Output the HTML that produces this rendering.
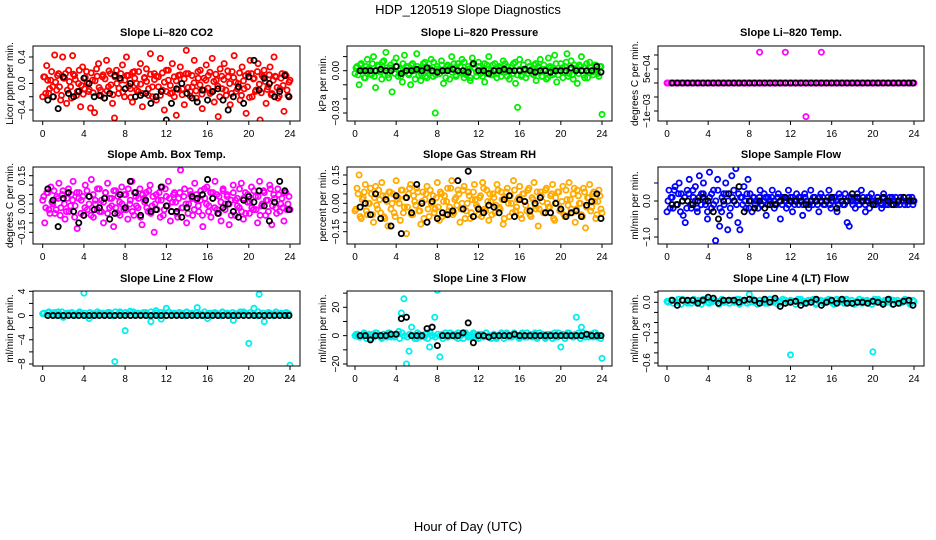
<!DOCTYPE html>
<html><head><meta charset="utf-8">
<style>
html,body{margin:0;padding:0;background:#fff;}
svg{display:block;font-family:"Liberation Sans",sans-serif;}
</style></head>
<body>
<svg id="chart" width="936" height="540" viewBox="0 0 936 540" xmlns="http://www.w3.org/2000/svg">
<text x="468" y="14" text-anchor="middle" font-size="13">HDP_120519  Slope Diagnostics</text>
<text x="468" y="531" text-anchor="middle" font-size="13">Hour of Day (UTC)</text>
</svg>
<script>
// ---- data ----
const xTicks = [0,4,8,12,16,20,24];
const co2Vals = [-20,10,27,-15,5,-5,43,-10,15,-25,40,8,-30,20,-5,42,12,-18,0,-35,25,-8,18,-12,-37,5,-44,22,30,-10,10,-22,35,-5,15,-30,-52,20,-15,5,28,-20,40,12,-8,-28,18,0,-12,30,-35,8,22,-18,45,-5,15,-25,10,38,-10,-40,20,5,-15,30,-20,-48,12,25,-8,-32,50,15,-12,-5,35,-22,8,20,-38,-10,28,12,-15,38,-28,5,-50,22,-8,30,-18,10,-32,18,42,-12,0,-25,25,-8,-45,15,35,-20,8,-10,30,-55,12,20,-30,-5,25,-15,40,10,-22,-8,15,-42,12,-18,5];
const co2Dense = [10,-15,5,-8,18,-20,2,12,-5,-18,8,15,-10,3,-22,14,6,-12,20,-3,-16,9,1,-9,16,-14,4,11,-6,-19,13,7,-11,19,-2,-17,10,0,-7,15,-13,5,12,-4,-21,17,8,-10,18,-1,-15,9,3,-8,14,-20,6,11,-5,-18,16,2,-12,20,-3,-14,10,4,-9,13,-17,7,15,-6,-19,12,1,-11,18,-2,-16,8,5,-7,17,-13,3,14,-4,-20,11,6,-10,19,0,-15,9,2,-8,16,-18,4,12,-5,-21,15,7,-12,18,-1,-14,10,3,-9,13,-17,5,11,-6,-19,8,-3,14,-10,2];
const co2Black = [-25,-20,-38,10,-15,-20,-12,8,0,-20,-18,-22,-15,12,8,-8,0,-20,-18,-15,-30,-20,-12,-55,-30,-8,0,-15,-22,-28,-10,-25,-12,-8,-25,-40,-20,-5,-30,10,35,-10,8,0,-20,-12,12,-20];
const presVals = [-2,3,-10,5,0,-5,8,2,-3,10,-12,4,0,-6,7,13,-3,2,-15,6,9,-4,1,-8,11,3,-2,-10,5,0,12,-3,-7,2,6,-5,1,8,-4,-30,3,-2,7,-9,0,4,-6,10,2,-3,5,-1,8,-5,0,3,-7,9,2,-4,6,-2,1,-8,4,10,0,-3,5,-2,2,-4,7,-1,3,-6,0,5,-9,-26,8,-3,1,-5,6,0,-2,4,-7,3,8,-4,1,-6,9,2,-3,11,-8,0,5,-5,3,12,-2,7,-6,1,-9,4,10,-3,2,-5,6,-1,0,4,-2,3,-31];
const presDense = [2,-3,4,0,-5,3,1,-2,5,-4,0,3,-1,6,-3,2,-5,4,1,-2,3,0,-4,5,-1,2,-3,4,0,-6,3,1,-2,5,-4,0,2,-1,6,-3,1,-2,4,0,-5,3,2,-1,5,-4,0,3,-2,6,-3,1,-5,4,2,-1,3,0,-4,5,-2,1,-3,4,0,-5,3,2,-1,5,-4,0,2,-2,6,-3,1,-4,4,0,-2,3,1,-3,5,-1,2,-4,4,0,-5,3,1,-2,5,-3,0,2,-1,6,-4,1,-3,4,2,-2,3,0,-5,5,-1,2,-3,4,0,-4,3];
const presBlack = [0,0,0,0,1,0,0,3,-2,0,0,1,0,2,0,-1,0,0,1,0,0,-1,5,0,0,-2,0,0,1,0,0,0,1,0,-1,0,0,-1,0,0,0,2,0,0,0,0,3,-1];
const tempVals = [0,0,0,0,0,0,0,0,0,0,0,0,0,0,0,0,0,0,11,0,0,0,0,11,0,0,0,-12,0,0,11,0,0,0,0,0,0,0,0,0,0,0,0,0,0,0,0,0,0];
const tempDense = [0,0,0,0,0,0,0,0,0,0,0,0,0,0,0,0,0,0,0,0,0,0,0,0,0,0,0,0,0,0,0,0,0,0,0,0,0,0,0,0,0,0,0,0,0,0,0,0,0,0,0,0,0,0,0,0,0,0,0,0,0,0,0,0,0,0,0,0,0,0,0,0,0,0,0,0,0,0,0,0,0,0,0,0,0,0,0,0,0,0,0,0,0,0,0,0,0];
const tempBlack = [0,0,0,0,0,0,0,0,0,0,0,0,0,0,0,0,0,0,0,0,0,0,0,0,0,0,0,0,0,0,0,0,0,0,0,0,0,0,0,0,0,0,0,0,0,0,0,0];
const boxVals = [2,-10,6,-3,9,0,-5,4,11,-2,7,-8,3,-4,5,12,-1,-13,6,2,-6,10,-3,4,13,-7,0,8,-4,2,-10,6,11,-2,3,-12,7,-5,1,9,-3,5,-8,0,12,-6,4,-2,8,-11,3,6,-4,10,-1,-15,5,2,-7,9,-3,4,12,-9,1,6,-5,3,18,-2,8,-10,0,5,-6,11,2,-4,7,-12,3,9,-1,-7,6,12,-3,4,-9,8,0,5,-11,2,10,-6,3,-2,11,-8,6,1,-5,9,-3,4,-10,12,-1,7,-6,2,10,-11,5,-2,8,-4,3,-9,6,0,-3];
const boxDense = [4,-2,6,-5,1,7,-3,3,-6,5,0,-4,8,-1,2,-7,6,3,-5,4,-2,7,0,-6,5,2,-3,8,-4,1,6,-5,3,-1,7,-2,4,-6,0,5,-3,8,2,-4,6,-1,3,-7,5,1,-2,7,-5,4,0,-3,6,2,-6,8,-1,3,-4,5,1,-7,6,-2,4,0,-5,7,3,-3,5,-1,2,-6,8,0,-4,6,3,-2,5,-5,1,7,-3,4,0,-6,6,2,-1,8,-4,3,-5,5,1,-2,7,-3,4,-6,0,6,2,-4,8,-1,3,-5,5,0,-2,6,-3,4];
const boxBlack = [8,2,-12,3,6,-4,-10,-6,4,-3,-2,3,-8,-5,5,-2,12,6,-6,2,-4,-3,9,-1,-4,-4,-7,-2,4,3,5,13,3,-5,-2,0,-4,-7,2,4,1,7,-1,-9,1,12,7,-3];
const rhVals = [-4,8,15,-8,3,10,-6,0,5,-10,9,-3,2,11,-7,4,-12,6,0,-5,12,3,-9,7,-2,-16,5,10,-6,1,8,-4,-11,6,2,9,-7,0,4,-3,11,-9,5,1,-6,8,-2,12,-5,3,7,-10,0,9,-4,6,-8,2,10,-1,-6,4,11,-3,7,-9,1,5,-5,10,-2,6,-11,3,8,-7,0,12,-4,2,9,-8,5,-1,7,-6,3,11,-3,-12,6,1,-5,8,-2,4,10,-9,0,6,-4,9,-7,2,11,-3,5,-10,7,0,-6,8,-13,3,10,-2,6,-8,1,4,-5];
const rhDense = [-3,5,-7,2,6,-4,0,8,-6,3,-1,7,-5,4,-8,1,6,-3,5,-7,2,0,7,-5,3,-2,8,-6,4,-1,6,-4,1,-8,5,-3,7,0,-5,3,-2,6,-7,4,1,-4,8,-6,2,-1,5,-3,7,-8,0,4,-5,6,2,-2,3,-7,8,-4,1,5,-6,3,-1,7,-3,2,-8,6,0,4,-5,7,-2,3,-6,5,1,-4,8,-7,2,-1,6,-3,4,-5,7,0,-2,5,-8,3,6,-4,1,-6,7,-1,2,-5,8,-3,4,0,-7,6,-2,3,-4,5,1,-6,7,-3];
const rhBlack = [-2,0,-6,5,-8,2,-12,4,-16,3,-5,10,0,-10,1,-8,-5,-6,-4,12,-3,17,-7,-3,-5,-1,-2,-5,2,4,-7,2,1,-4,0,3,-5,-5,0,-3,-7,-5,-4,-7,-1,1,5,-8];
const flowVals = [-3,3,1,-2,4,-1,5,2,-4,-6,3,6,-2,1,4,-3,7,2,5,-1,-5,8,-2,3,-11,6,-7,-3,2,5,-8,-4,7,3,9,-6,-8,1,4,-2,6,2,-3,1,0,-2,3,-1,2,-4,1,0,3,-2,-1,2,-5,1,0,-2,3,1,-3,0,2,-1,1,-4,2,0,-2,3,-1,1,0,-3,2,1,-1,0,3,-2,0,1,-3,2,0,-1,2,-6,-7,1,0,-2,2,-1,3,0,-3,1,-2,2,0,-1,1,0,-2,2,-1,0,1,-1,0,1,0,-1,0,1,0,-1,0,1,0];
const flowDense = [0,-2,1,3,-1,2,-3,0,1,-2,2,-1,3,0,-2,1,-1,2,0,-3,1,2,-1,0,3,-2,1,-1,2,0,-2,1,0,-1,2,1,-1,0,2,-2,0,1,-1,0,1,-1,0,1,-1,0,1,0,-1,1,0,-1,1,0,-1,0,1,-1,0,1,0,-1,1,0,-1,0,1,0,-1,1,0,-1,0,1,-1,0,1,0,-1,1,0,-1,0,1,0,-1,1,0,-1,0,1,-1,0,1,0,-1,0,1,0,-1,1,0,-1,0,1,0,-1,0,1,0,-1,0,1,0,-1];
const flowBlack = [-1,-1,0,0,-1,0,1,0,-3,-5,0,2,0,4,-3,0,-2,0,-2,-1,-1,0,1,0,0,0,-1,0,0,0,0,1,-2,0,0,2,1,0,0,-1,0,1,0,-1,0,1,0,0];
const l2Vals = [0.3,0.5,0.2,0.6,-0.3,0.4,0.2,0.5,3.7,-0.5,0.3,0.4,0.2,0.5,-7.6,0.6,-2.5,0.7,0.3,0.2,0.5,-1.0,0.8,-0.6,1.2,0.3,0.2,0.4,0.5,0.3,1.3,0.2,-0.5,0.4,0.3,0.5,0.2,-0.8,0.3,0.6,-4.6,1.2,3.5,-1.0,0.4,0.3,0.2,0.4,-8.2];
const l2Dense = [0.4,0.1,0.6,0.2,0.5,0.0,0.3,0.6,0.1,0.4,0.2,0.5,0.0,0.3,0.6,0.2,0.4,0.1,0.5,0.3,0.0,0.6,0.2,0.4,0.1,0.5,0.3,0.0,0.6,0.2,0.4,0.1,0.5,0.3,0.0,0.6,0.2,0.4,0.1,0.5,0.3,0.0,0.6,0.2,0.4,0.1,0.5,0.3,0.0,0.6,0.2,0.4,0.1,0.5,0.3,0.0,0.6,0.2,0.4,0.1,0.5,0.3,0.0,0.6,0.2,0.4,0.1,0.5,0.3,0.0,0.6,0.2,0.4,0.1,0.5,0.3,0.0,0.6,0.2,0.4,0.1,0.5,0.3,0.0,0.6,0.2,0.4,0.1,0.5,0.3,0.0,0.6,0.2,0.4,0.1,0.5,0.3];
const l2Black = [0,0,0,0,0,0,0,0,0,0,0,0,0,0,0,0,0,0,0,0,0,0,0,0,0,0,0,0,0,0,0,0,0,0,0,0,0,0,0,0,0,0,0,0,0,0,0,0];
const l3Vals = [0,1,-1,0,1,0,-2,1,2,0,-1,1,0,2,-1,0,1,3,16,26,-20,-11,6,0,-2,1,0,-1,2,-8,0,13,32,-15,1,0,-1,2,0,1,-2,0,1,2,-1,0,1,0,-2,1,0,2,-1,0,1,-2,0,1,0,2,-1,0,1,0,-1,2,0,-1,1,0,2,-1,0,1,-2,0,1,0,-1,2,-8,0,1,2,0,-1,13,2,6,0,1,-1,0,2,-1,0,-16];
const l3Dense = [1,-1,0,2,-2,1,0,-1,2,0,-2,1,-1,2,0,-1,1,-2,2,0,-1,1,0,-2,2,-1,0,1,-2,2,0,-1,1,0,-2,2,-1,0,1,-1,2,0,-2,1,0,-1,2,-2,1,0,-1,2,0,-2,1,-1,0,2,-2,1,0,-1,2,0,-2,1,-1,2,0,-1,1,-2,2,0,-1,1,0,-2,2,-1,0,1,-2,2,0,-1,1,0,-2,2,-1,0,1,-1,2,0,-2];
const l3Black = [0,0,-3,0,0,0,1,1,12,13,0,0,0,5,6,-7,0,0,0,0,2,9,-5,0,0,-1,0,0,0,0,1,0,0,0,0,0,0,0,0,0,0,0,0,0,1,0,0,0];
const l4Vals = [1,2,0,3,-1,2,1,3,0,2,-1,1,2,0,3,1,8,0,2,-1,3,1,0,2,-52,1,3,0,2,-1,1,2,0,3,1,2,-1,0,2,1,-49,3,0,1,2,-1,2,0,1];
const l4Dense = [0,2,-1,1,3,-2,2,0,1,-1,3,0,2,-2,1,3,-1,0,2,1,-2,3,0,1,-1,2,0,3,-2,1,2,-1,0,3,1,-2,2,0,1,-1,3,0,2,-2,1,3,-1,0,2,1,-2,3,0,1,-1,2,0,3,-2,1,2,-1,0,3,1,-2,2,0,1,-1,3,0,2,-2,1,3,-1,0,2,1,-2,3,0,1,-1,2,0,3,-2,1,2,-1,0,3,1,-2,2];
const l4Black = [2,-3,2,2,2,-1,2,5,4,-1,2,2,2,0,2,3,2,-1,3,0,4,-4,-1,0,1,-3,-1,0,3,-3,0,2,-1,3,-1,-1,0,0,-1,1,0,-2,3,-2,-1,1,2,-3];

// ---- layout ----
const cols = [{l:33,r:300,x0:42.7,x24:290,ylab:9},{l:347,r:612,x0:355,x24:602,ylab:322},{l:658,r:924,x0:667,x24:914,ylab:634}];
const rows = [{t:46,b:121,title:36},{t:167,b:244,title:158},{t:291,b:366,title:282}];
const panels = [
 {name:'co2',title:'Slope Li–820 CO2',ylab:'Licor ppm per min.',r:0,c:0,vals:co2Vals,dense:co2Dense,blk:co2Black,unit:0.01,col:'#ff0000',yA:0.4,pA:57,yB:-0.4,pB:110,ticks:[-0.4,-0.2,0,0.2,0.4],labels:{'-0.4':'−0.4','0':'0.0','0.4':'0.4'}},
 {name:'pressure',title:'Slope Li–820 Pressure',ylab:'kPa per min.',r:0,c:1,vals:presVals,dense:presDense,blk:presBlack,unit:0.001,col:'#00ee00',yA:0,pA:70.7,yB:-0.03,pB:113,ticks:[0.01,0,-0.01,-0.02,-0.03],labels:{'0':'0.00','-0.03':'−0.03'}},
 {name:'temp',title:'Slope Li–820 Temp.',ylab:'degrees C per min.',r:0,c:2,vals:tempVals,dense:tempDense,blk:tempBlack,unit:0.0001,col:'#ff00ff',yA:0.0005,pA:69,yB:-0.001,pB:111,ticks:[0.001,0.0005,0,-0.0005,-0.001],labels:{'0.0005':'5e−04','-0.001':'−1e−03'}},
 {name:'amb-box-temp',title:'Slope Amb. Box Temp.',ylab:'degrees C per min.',r:1,c:0,vals:boxVals,dense:boxDense,blk:boxBlack,unit:0.01,col:'#ff00ff',yA:0.15,pA:175.7,yB:-0.15,pB:232.3,ticks:[0.15,0.1,0.05,0,-0.05,-0.1,-0.15],labels:{'0.15':'0.15','0':'0.00','-0.15':'−0.15'}},
 {name:'gas-rh',title:'Slope Gas Stream RH',ylab:'percent per min.',r:1,c:1,vals:rhVals,dense:rhDense,blk:rhBlack,unit:0.01,col:'#ffaa00',yA:0.15,pA:175,yB:-0.15,pB:231.7,ticks:[0.15,0.1,0.05,0,-0.05,-0.1,-0.15],labels:{'0.15':'0.15','0':'0.00','-0.15':'−0.15'}},
 {name:'sample-flow',title:'Slope Sample Flow',ylab:'ml/min per min.',r:1,c:2,vals:flowVals,dense:flowDense,blk:flowBlack,unit:0.1,col:'#0000ff',yA:0,pA:201,yB:-1,pB:237,ticks:[0.5,0,-0.5,-1],labels:{'0':'0.0','-1':'−1.0'}},
 {name:'line2-flow',title:'Slope Line 2 Flow',ylab:'ml/min per min.',r:2,c:0,vals:l2Vals,dense:l2Dense,blk:l2Black,unit:1,col:'#00eeee',yA:4,pA:291.3,yB:-8,pB:364,ticks:[4,2,0,-2,-4,-6,-8],labels:{'4':'4','0':'0','-4':'−4','-8':'−8'}},
 {name:'line3-flow',title:'Slope Line 3 Flow',ylab:'ml/min per min.',r:2,c:1,vals:l3Vals,dense:l3Dense,blk:l3Black,unit:1,col:'#00eeee',yA:20,pA:307.3,yB:-20,pB:364,ticks:[30,20,10,0,-10,-20],labels:{'20':'20','0':'0','-20':'−20'}},
 {name:'line4-flow',title:'Slope Line 4 (LT) Flow',ylab:'ml/min per min.',r:2,c:2,vals:l4Vals,dense:l4Dense,blk:l4Black,unit:0.01,col:'#00eeee',yA:0,pA:302.3,yB:-0.6,pB:363,ticks:[0.1,0,-0.1,-0.2,-0.3,-0.4,-0.5,-0.6],labels:{'0':'0.0','-0.3':'−0.3','-0.6':'−0.6'}}
];

const NS='http://www.w3.org/2000/svg';
const svg=document.getElementById('chart');
function mk(tag,attrs,parent){const e=document.createElementNS(NS,tag);for(const k in attrs)e.setAttribute(k,attrs[k]);(parent||svg).appendChild(e);return e;}

panels.forEach(p=>{
  const C=cols[p.c], R=rows[p.r];
  const g=mk('g',{});
  
  
  const xs=h=>C.x0+(C.x24-C.x0)*h/24;
  const ys=v=>p.pA+(v-p.yA)*(p.pB-p.pA)/(p.yB-p.yA);
  const clip=mk('clipPath',{id:'clip-'+p.name},g);
  mk('rect',{x:C.l,y:R.t,width:C.r-C.l,height:R.b-R.t},clip);
  const t=mk('text',{x:(C.l+C.r)/2,y:R.title,'text-anchor':'middle','font-size':'11','font-weight':'bold'},g);
  t.textContent=p.title;
  
  
  const pts=mk('g',{'clip-path':'url(#clip-'+p.name+')',fill:'none','stroke-width':'1.8'},g);
  
  
  const nd=p.dense.length;
  p.dense.forEach((v,i)=>{
    const c=mk('circle',{cx:xs((i+0.5)*24/nd),cy:ys(v*p.unit),r:2.6,stroke:p.col},pts);
    
    
  });
  const n=p.vals.length;
  p.vals.forEach((v,i)=>{
    const c=mk('circle',{cx:xs(i*24/(n-1)),cy:ys(v*p.unit),r:2.6,stroke:p.col},pts);
    
    
  });
  p.blk.forEach((v,i)=>{
    const c=mk('circle',{cx:xs(0.5+i*0.5-(i==47?0.1:0)),cy:ys(v*p.unit),r:2.6,stroke:'#000'},pts);
    
    
  });
  const box=mk('rect',{x:C.l,y:R.t,width:C.r-C.l,height:R.b-R.t,fill:'none',stroke:'#000','stroke-width':'1'},g);
  
  
  const ax=mk('g',{stroke:'#000','stroke-width':'1'},g);
  
  
  mk('line',{x1:xs(0),x2:xs(24),y1:R.b,y2:R.b},ax);
  xTicks.forEach(h=>{
    mk('line',{x1:xs(h),x2:xs(h),y1:R.b,y2:R.b+4},ax);
    const tl=mk('text',{x:xs(h),y:R.b+16,'text-anchor':'middle','font-size':'10',stroke:'none',fill:'#000'},g);
    tl.textContent=h;
    
    
  });
  const ay=mk('g',{stroke:'#000','stroke-width':'1'},g);
  
  
  const tv=p.ticks.map(ys).filter(y=>y>=R.t-3&&y<=R.b+3);
  mk('line',{x1:C.l,x2:C.l,y1:Math.min(...tv),y2:Math.max(...tv)},ay);
  p.ticks.forEach(v=>{
    const y=ys(v); if(y<R.t-3||y>R.b+3) return;
    mk('line',{x1:C.l,x2:C.l-4,y1:y,y2:y},ay);
    const key=String(+v.toFixed(6));
    if(p.labels[key]!==undefined){
      const tl=mk('text',{x:0,y:0,'text-anchor':'middle','font-size':'10',transform:'translate('+(C.l-8)+','+y+') rotate(-90)'},g);
      tl.textContent=p.labels[key];
      
      
    }
  });
  const yl=mk('text',{x:0,y:0,'text-anchor':'middle','font-size':'10',transform:'translate('+(C.ylab+4)+','+((R.t+R.b)/2)+') rotate(-90)'},g);
  yl.textContent=p.ylab;
  
  
});
</script>
</body></html>
